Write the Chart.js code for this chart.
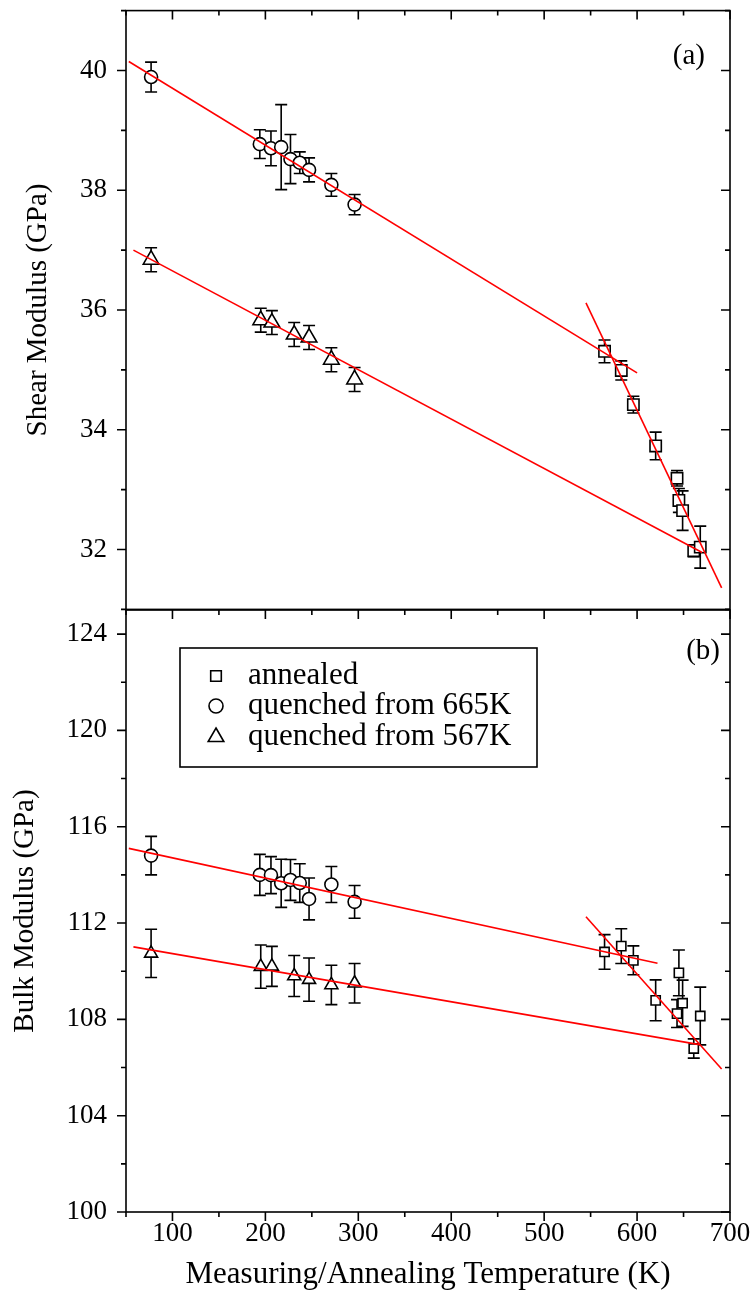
<!DOCTYPE html>
<html>
<head>
<meta charset="utf-8">
<script src="https://cdn.jsdelivr.net/npm/chart.js@4.4.0/dist/chart.umd.min.js"></script>
<style>
  body { margin: 0; background: #fff; }
  #wrap { position: relative; width: 751px; height: 1295px; }
  canvas { position: absolute; left: 0; }
</style>
</head>
<body>
<div id="wrap">
  <canvas id="shear" width="751" height="620" style="top:0"></canvas>
  <canvas id="bulk" width="751" height="695" style="top:600px"></canvas>
</div>
<script>
// temperatures (K)
const tAnneal = [565, 583, 596, 620, 643, 645, 649, 661, 668]
const tQ665 = [77, 194, 206, 217, 227, 237, 247, 271, 296]
const tQ567 = [77, 195, 207, 231, 247, 271, 296]

// shear modulus (GPa) with error bars
const shearAnneal = [35.31, 34.99, 34.42, 33.73, 33.19, 32.82, 32.65, 31.98, 32.04]
const shearAnnealErr = [0.19, 0.16, 0.14, 0.23, 0.13, 0.2, 0.33, 0.1, 0.35]
const shearQ665 = [39.89, 38.77, 38.70, 38.72, 38.52, 38.46, 38.34, 38.09, 37.76]
const shearQ665Err = [0.25, 0.24, 0.29, 0.71, 0.41, 0.18, 0.2, 0.19, 0.17]
const shearQ567 = [36.84, 35.83, 35.79, 35.59, 35.54, 35.17, 34.84]
const shearQ567Err = [0.2, 0.2, 0.2, 0.2, 0.2, 0.2, 0.2]

// bulk modulus (GPa) with error bars
const bulkAnneal = [110.8, 111.04, 110.45, 108.79, 108.24, 109.93, 108.67, 106.79, 108.14]
const bulkAnnealErr = [0.72, 0.72, 0.6, 0.85, 0.58, 0.95, 0.96, 0.4, 1.2]
const bulkQ665 = [114.8, 114.0, 113.99, 113.65, 113.79, 113.66, 113.0, 113.6, 112.88]
const bulkQ665Err = [0.8, 0.85, 0.77, 1.0, 0.85, 0.8, 0.87, 0.75, 0.68]
const bulkQ567 = [110.74, 110.19, 110.2, 109.8, 109.65, 109.43, 109.5]
const bulkQ567Err = [1.0, 0.9, 0.83, 0.85, 0.9, 0.82, 0.82]

// linear fits, end points [T, GPa]
const shearFitAnneal = [[545, 36.12], [691, 31.36]]
const shearFitQ665 = [[53, 40.15], [600, 34.95]]
const shearFitQ567 = [[58, 37.0], [670, 31.95]]
const bulkFitAnneal = [[545, 112.26], [691, 105.94]]
const bulkFitQ665 = [[53, 115.1], [622, 110.33]]
const bulkFitQ567 = [[58, 111.01], [667, 106.95]]

// ticks
const xTicks = [100, 200, 300, 400, 500, 600, 700]
const xMinor = [50, 150, 250, 350, 450, 550, 650]
const shearTicks = [32, 34, 36, 38, 40]
const shearMinor = [31, 33, 35, 37, 39, 41]
const bulkTicks = [100, 104, 108, 112, 116, 120, 124]
const bulkMinor = [102, 106, 110, 114, 118, 122]

const seriesNames = ['annealed', 'quenched from 665K', 'quenched from 567K']
const seriesStyles = ['rect', 'circle', 'triangle']

const FONT = 'Liberation Serif'

function pts(xs, ys) {
  return xs.map((x, i) => ({x: x, y: ys[i]}))
}

function fitLine(ends) {
  return {
    data: ends.map(p => ({x: p[0], y: p[1]})),
    showLine: true, borderColor: '#ff0000', borderWidth: 1.6,
    pointRadius: 0, fill: false
  }
}

function markers(xs, ys, err, style, r) {
  return {
    data: pts(xs, ys), err: err,
    pointStyle: style, pointRadius: r, pointBorderWidth: 1.6,
    pointBackgroundColor: '#fff', pointBorderColor: '#000', showLine: false
  }
}

// no extra room for overhanging tick labels
function noPad(s) {
  s.paddingTop = 0; s.paddingBottom = 0; s.paddingLeft = 0; s.paddingRight = 0
}

// error bars under the markers
const errorBars = {
  id: 'errorBars',
  beforeDatasetsDraw(chart) {
    const {ctx, scales: {x, y}} = chart
    ctx.save()
    ctx.strokeStyle = '#000'
    ctx.lineWidth = 1.6
    chart.data.datasets.forEach(ds => {
      if (!ds.err) return
      ds.data.forEach((p, i) => {
        const px = x.getPixelForValue(p.x)
        const y0 = y.getPixelForValue(p.y - ds.err[i])
        const y1 = y.getPixelForValue(p.y + ds.err[i])
        ctx.beginPath()
        ctx.moveTo(px, y0); ctx.lineTo(px, y1)
        ctx.moveTo(px - 6, y0); ctx.lineTo(px + 6, y0)
        ctx.moveTo(px - 6, y1); ctx.lineTo(px + 6, y1)
        ctx.stroke()
      })
    })
    ctx.restore()
  }
}

// box, tick marks, panel letter, legend
const frame = {
  id: 'frame',
  afterDraw(chart, args, o) {
    const {ctx, chartArea: a, scales: {x, y}} = chart
    ctx.save()
    ctx.strokeStyle = '#000'
    ctx.lineWidth = 1.6
    ctx.strokeRect(a.left, a.top, a.right - a.left, a.bottom - a.top)
    ctx.beginPath()
    const xt = (vals, len) => vals.forEach(v => {
      const px = x.getPixelForValue(v)
      ctx.moveTo(px, a.top); ctx.lineTo(px, a.top + len)
      if (o.bottomTicks) { ctx.moveTo(px, a.bottom); ctx.lineTo(px, a.bottom + len) }
    })
    const yt = (vals, len) => vals.forEach(v => {
      const py = y.getPixelForValue(v)
      ctx.moveTo(a.left - len, py); ctx.lineTo(a.left, py)
      ctx.moveTo(a.right - len, py); ctx.lineTo(a.right, py)
    })
    xt(xTicks, 9); xt(xMinor, 5)
    yt(o.major, 9); yt(o.minor, 5)
    ctx.stroke()

    ctx.fillStyle = '#000'
    ctx.font = '29px ' + FONT
    ctx.textAlign = 'right'
    ctx.textBaseline = 'middle'
    ctx.fillText(o.label, o.labelX, o.labelY)

    if (o.legend) {
      const L = o.legend
      ctx.strokeRect(L.x, L.y, L.w, L.h)
      ctx.textAlign = 'left'
      ctx.font = '31px ' + FONT
      seriesNames.forEach((name, i) => {
        const cy = L.y + L.rows[i]
        ctx.lineWidth = 1.6
        ctx.fillStyle = '#fff'
        Chart.helpers.drawPoint(ctx, {pointStyle: seriesStyles[i], radius: L.r[i], borderWidth: 1.6}, L.x + 36, cy)
        ctx.fillStyle = '#000'
        ctx.fillText(name, L.x + 68, cy)
      })
    }
    ctx.restore()
  }
}

function buildChart(id, cfg) {
  return new Chart(document.getElementById(id), {
    type: 'scatter',
    data: {datasets: cfg.datasets},
    options: {
      responsive: false,
      animation: false,
      layout: {padding: {top: cfg.padTop, right: 21, bottom: cfg.padBottom, left: 0}},
      plugins: {legend: {display: false}, tooltip: {enabled: false}, frame: cfg.frame},
      scales: {
        x: {
          type: 'linear', min: 50, max: 700, display: cfg.showX,
          afterBuildTicks: s => { s.ticks = xTicks.map(v => ({value: v})) },
          ticks: {font: {family: FONT, size: 27}, color: '#000', padding: 6, maxRotation: 0, autoSkip: false},
          grid: {display: false, drawTicks: false},
          border: {display: false},
          title: {display: true, text: 'Measuring/Annealing Temperature (K)', color: '#000',
                  font: {family: FONT, size: 31}, padding: {top: 0, bottom: 2}},
          afterFit: s => { s.height = cfg.xHeight; noPad(s) }
        },
        y: {
          type: 'linear', min: cfg.yMin, max: cfg.yMax,
          afterBuildTicks: s => { s.ticks = cfg.yTicks.map(v => ({value: v})) },
          ticks: {font: {family: FONT, size: 27}, color: '#000', padding: 19, autoSkip: false},
          grid: {display: false, drawTicks: false},
          border: {display: false},
          title: {display: true, text: cfg.yTitle, color: '#000',
                  font: {family: FONT, size: 29}, padding: {top: cfg.titlePad, bottom: 0}},
          afterFit: s => { s.width = 126; noPad(s) }
        }
      }
    },
    plugins: [errorBars, frame]
  })
}

buildChart('shear', {
  padTop: 8, padBottom: 10, showX: false, xHeight: 0,
  yMin: 31, yMax: 41, yTicks: shearTicks, yTitle: 'Shear Modulus (GPa)', titlePad: 21,
  frame: {major: shearTicks, minor: shearMinor, bottomTicks: false, label: '(a)', labelX: 705, labelY: 56},
  datasets: [
    fitLine(shearFitAnneal), fitLine(shearFitQ665), fitLine(shearFitQ567),
    markers(tAnneal, shearAnneal, shearAnnealErr, 'rect', 8),
    markers(tQ665, shearQ665, shearQ665Err, 'circle', 6.5),
    markers(tQ567, shearQ567, shearQ567Err, 'triangle', 9)
  ]
})

buildChart('bulk', {
  padTop: 10, padBottom: 0, showX: true, xHeight: 83,
  yMin: 100, yMax: 125, yTicks: bulkTicks, yTitle: 'Bulk Modulus (GPa)', titlePad: 8,
  frame: {major: bulkTicks, minor: bulkMinor, bottomTicks: true, label: '(b)', labelX: 720, labelY: 51,
          legend: {x: 180, y: 48, w: 357, h: 119, rows: [28, 58, 89], r: [7.5, 7, 9]}},
  datasets: [
    fitLine(bulkFitAnneal), fitLine(bulkFitQ665), fitLine(bulkFitQ567),
    markers(tAnneal, bulkAnneal, bulkAnnealErr, 'rect', 6.5),
    markers(tQ665, bulkQ665, bulkQ665Err, 'circle', 6.5),
    markers(tQ567, bulkQ567, bulkQ567Err, 'triangle', 7.5)
  ]
})
</script>
</body>
</html>
